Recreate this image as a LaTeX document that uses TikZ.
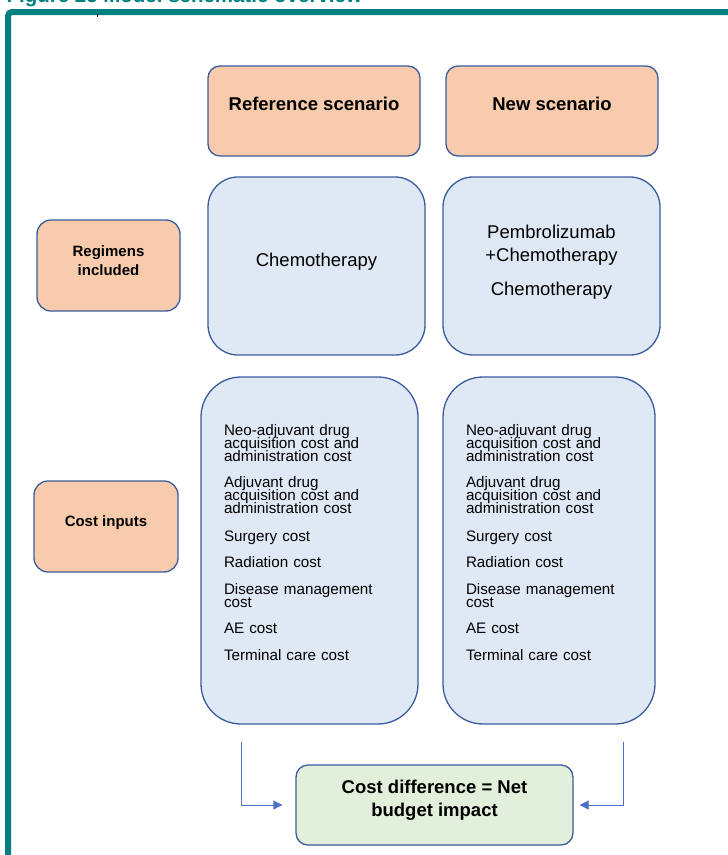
\documentclass[tikz,border=0pt]{standalone}
\usepackage{fontspec}
\setmainfont{Liberation Sans}
\usetikzlibrary{arrows.meta}
\definecolor{framegreen}{HTML}{00807F}
\definecolor{boxline}{HTML}{3B5C9C}
\definecolor{peach}{HTML}{F8CBAD}
\definecolor{paleblue}{HTML}{DEE9F5}
\definecolor{palegreen}{HTML}{E2EFDA}
\definecolor{arrowblue}{HTML}{4A72C4}

\begin{document}
\setlength{\normallineskiplimit}{-20pt}
\setlength{\lineskiplimit}{-20pt}
\begin{tikzpicture}[x=1pt,y=-1pt]
\tikzset{titre/.style={draw=boxline, line width=1.3pt, fill=peach, rounded corners=12pt,
    minimum width=212pt, minimum height=90pt, inner sep=0pt, text depth=14pt,
    font=\bfseries\fontsize{18.5}{22}\selectfont},
  etiq/.style={draw=boxline, line width=1.3pt, fill=peach, rounded corners=14pt,
    minimum width=144pt, minimum height=91pt, inner sep=0pt, align=center, text depth=10pt,
    font=\bfseries\fontsize{15}{19}\selectfont},
  regime/.style={draw=boxline, line width=1.3pt, fill=paleblue, rounded corners=30pt,
    minimum width=217pt, minimum height=178pt, inner sep=0pt, align=center, text depth=12pt,
    font=\fontsize{18.5}{23}\selectfont},
  couts/.style={draw=boxline, line width=1.3pt, fill=paleblue, rounded corners=40pt,
    minimum height=347pt, inner xsep=23pt, inner ysep=0pt, align=left,
    font=\fontsize{15.2}{13}\selectfont},
  fleche/.style={draw=arrowblue, line width=0.8pt, -{Triangle[length=9pt,width=9pt]}}}
\useasboundingbox (0,0) rectangle (728,855);
\node[anchor=base west, text=framegreen, font=\bfseries\fontsize{20.5}{24}\selectfont] (caption) at (3,2) {Figure 25 Model schematic overview};
\draw[framegreen, line width=6pt, rounded corners=4pt] (8,860) -- (8,12) -- (735,12);
\draw[black, line width=0.5pt] (97,14) -- (97,17);
% headers
\node[titre] (REF) at (314,111) {Reference scenario};
\node[titre] (NEW) at (552,111) {New scenario};
% row labels
\node[etiq, minimum width=143pt] (REG) at (108.5,265.5) {Regimens\\included};
\node[etiq] (COST) at (106,526.5) {Cost inputs};
% regimens
\node[regime] (R1) at (316.5,266) {Chemotherapy};
\node[regime] (R2) at (551.5,266) {Pembrolizumab\\+Chemotherapy\\[11pt]Chemotherapy};
% cost inputs
\node[couts, text width=171pt] (C1) at (309.5,550.5) {Neo-adjuvant drug\\acquisition cost and\\administration cost\\[13pt]
  Adjuvant drug\\acquisition cost and\\administration cost\\[15pt]
  Surgery cost\\[13pt]Radiation cost\\[14pt]Disease management\\cost\\[13pt]AE cost\\[14pt]Terminal care cost\rule[-16pt]{0pt}{16pt}};
\node[couts, text width=166pt] (C2) at (549,550.5) {Neo-adjuvant drug\\acquisition cost and\\administration cost\\[13pt]
  Adjuvant drug\\acquisition cost and\\administration cost\\[15pt]
  Surgery cost\\[13pt]Radiation cost\\[14pt]Disease management\\cost\\[13pt]AE cost\\[14pt]Terminal care cost\rule[-16pt]{0pt}{16pt}};
% result
\node[draw=boxline, line width=1.3pt, fill=palegreen, rounded corners=12pt, minimum width=277pt,
  minimum height=80pt, inner sep=0pt, align=center, text depth=12.5pt,
  font=\bfseries\fontsize{18.5}{23}\selectfont] (DIFF) at (434.5,805)
  {Cost difference = Net\\budget impact};
\coordinate (L1) at (241,742);
\coordinate (L2) at (623,742);
\draw[fleche] (L1) |- ([xshift=-13pt]DIFF.west);
\draw[fleche] (L2) |- ([xshift=6pt]DIFF.east);
\end{tikzpicture}
\end{document}
